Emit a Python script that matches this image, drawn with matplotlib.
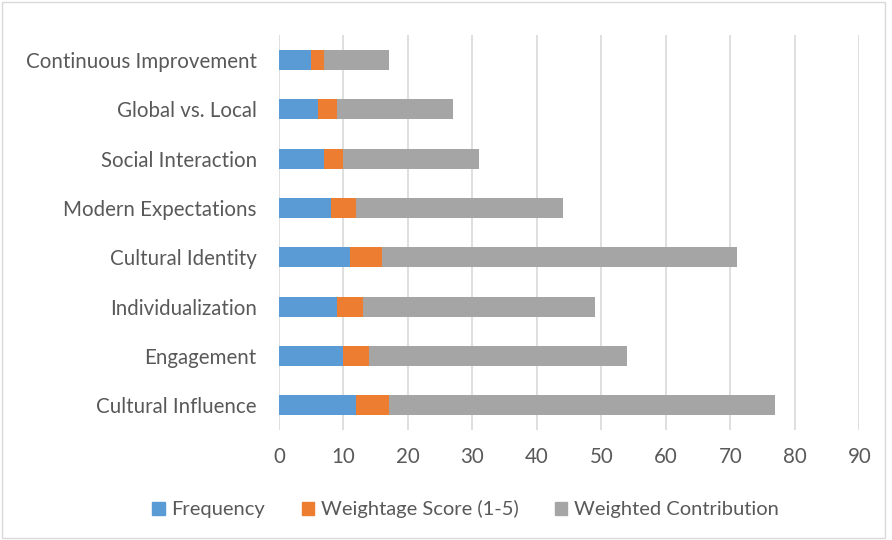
import matplotlib.pyplot as plt
import matplotlib.patches as mpatches
import numpy as np

plt.rcParams['font.family'] = ['Lato', 'DejaVu Sans']

categories = ['Cultural Influence', 'Engagement', 'Individualization', 'Cultural Identity',
              'Modern Expectations', 'Social Interaction', 'Global vs. Local',
              'Continuous Improvement']
frequency = [12, 10, 9, 11, 8, 7, 6, 5]
weightage = [5, 4, 4, 5, 4, 3, 3, 2]
weighted_contribution = [60, 40, 36, 55, 32, 21, 18, 10]

series_names = ['Frequency', 'Weightage Score (1-5)', 'Weighted Contribution']
colors = ['#5b9bd5', '#ed7d31', '#a5a5a5']
text_color = '#595959'

fig = plt.figure(figsize=(8.92, 5.40), dpi=100)
ax = fig.add_axes([0.3128, 0.2037, 0.6505, 0.731])

y = np.arange(len(categories))
left = np.zeros(len(categories))
for vals, name, c in zip([frequency, weightage, weighted_contribution], series_names, colors):
    ax.barh(y, vals, left=left, height=0.41, color=c, label=name, zorder=3)
    left += np.array(vals)

ax.set_xlim(0, 90)
ax.set_ylim(-0.5, len(categories) - 0.5)
ax.set_xticks(np.arange(0, 91, 10))
ax.set_yticks(y)
ax.set_yticklabels(categories)
ax.tick_params(axis='both', length=0, labelsize=14.8, colors=text_color)
ax.tick_params(axis='x', pad=12)
ax.tick_params(axis='y', pad=16)
ax.grid(axis='x', color='#d9d9d9', linewidth=1.2, zorder=0)
for s in ax.spines.values():
    s.set_visible(False)

handles = [mpatches.Patch(color=c, label=n) for c, n in zip(colors, series_names)]
fig.legend(handles=handles, loc='center', bbox_to_anchor=(0.522, 0.057), ncol=3,
           frameon=False, fontsize=14.5, handlelength=0.6, handleheight=0.6,
           handletextpad=0.35, columnspacing=1.8, labelcolor=text_color)

fig.patches.append(mpatches.Rectangle((0.002, 0.004), 0.99, 0.992, transform=fig.transFigure,
                                      fill=False, edgecolor='#d9d9d9', linewidth=1))

fig.savefig('out.png', dpi=100)
